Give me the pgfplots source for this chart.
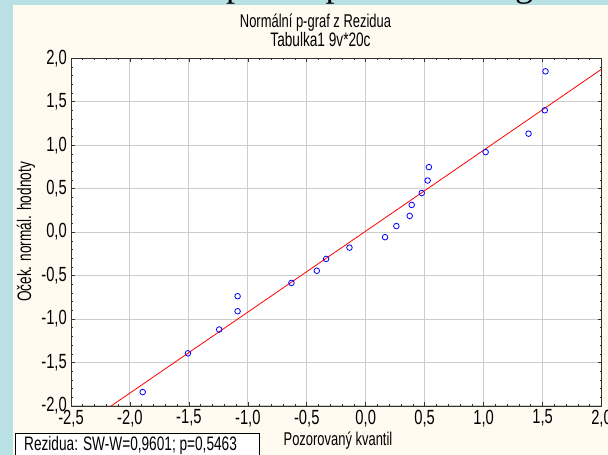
\documentclass[border=0pt]{standalone}
\usepackage{fontspec}
\setmainfont{Liberation Sans}
\newfontfamily\narrowfont[FakeStretch=0.70]{Liberation Sans}
\newfontfamily\tickfamily[FakeStretch=0.72]{Liberation Sans}
\newfontfamily\slidefont{Liberation Serif}
\usepackage{pgfplots}
\pgfplotsset{compat=1.18}

\definecolor{framebg}{RGB}{185,224,228}
\definecolor{panelbg}{RGB}{255,251,240}
\definecolor{gridgray}{RGB}{205,205,205}

\newcommand{\tickfont}{\tickfamily\fontsize{20.5bp}{24bp}\selectfont}
\newcommand{\labelfont}{\narrowfont\fontsize{19.5bp}{23bp}\selectfont}

\begin{document}
\begin{tikzpicture}[x=1bp,y=1bp]
\useasboundingbox (0,0) rectangle (608,455);
\clip (0,0) rectangle (608,455);
\fill[framebg] (0,0) rectangle (608,455);
% slide title, only its descenders show above the panel
\node[anchor=base west, inner sep=0pt, font=\slidefont\fontsize{36.5bp}{40bp}\selectfont]
  at (77,458.5) {Normální pravděpodobnostní graf};
\fill[panelbg] (13,0) rectangle (608,450);

\begin{axis}[
    at={(71bp,49bp)}, anchor=south west,
    width=530.5bp, height=347.7bp, scale only axis,
    xmin=-2.5, xmax=2, ymin=-2, ymax=2,
    xtick={-2.5,-2,-1.5,-1,-0.5,0,0.5,1,1.5,2},
    ytick={-2,-1.5,-1,-0.5,0,0.5,1,1.5,2},
    minor x tick num=4, minor y tick num=4,
    tick align=inside,
    major tick length=4bp, minor tick length=2bp,
    grid=major,
    major grid style={gridgray, line width=1bp},
    axis line style={black!80, line width=0.9bp},
    tick style={black!80, line width=0.6bp},
    axis background/.style={fill=white},
    ticklabel style={font=\tickfont, inner sep=0pt},
    xticklabel style={yshift=-3.5bp},
    yticklabel style={xshift=-4bp},
    /pgf/number format/.cd, use comma, fixed, fixed zerofill, precision=1,
    assume math mode=true,
]
\addplot[red, line width=0.8bp] coordinates {(-2.16,-2) (2,1.874)};
\addplot[only marks, mark=o, mark size=2.8bp, blue, mark options={line width=0.8bp}]
  coordinates {
    (-1.892,-1.840) (-1.508,-1.394) (-1.243,-1.120) (-1.087,-0.910)
    (-1.087,-0.737) (-0.630,-0.584) (-0.415,-0.444) (-0.336,-0.308)
    (-0.138,-0.178) (0.164,-0.058) (0.260,0.070) (0.373,0.187)
    (0.390,0.313) (0.475,0.450) (0.525,0.594) (0.536,0.748)
    (1.017,0.921) (1.381,1.133) (1.519,1.402) (1.525,1.850)
  };
\end{axis}

% chart title
\node[anchor=base, inner sep=0pt, font=\narrowfont\fontsize{18.5bp}{22bp}\selectfont] at (315.5,427) {Normální p-graf z Rezidua};
\node[anchor=base, inner sep=0pt, font=\labelfont] at (320.5,408.3) {Tabulka1 9v*20c};
% axis titles
\node[anchor=base, inner sep=0pt, font=\narrowfont\fontsize{18.5bp}{22bp}\selectfont] at (338,9) {Pozorovaný kvantil};
\node[rotate=90, inner sep=0pt, font=\labelfont] at (26,223) {Oček. normál. hodnoty};
% test statistic box
\filldraw[fill=white, draw=black, line width=0.9bp] (15,-5) rectangle (259,22);
\node[anchor=base west, inner sep=0pt, font=\labelfont] at (24,4) {Rezidua: SW-W=0,9601; p=0,5463};
\end{tikzpicture}
\end{document}
